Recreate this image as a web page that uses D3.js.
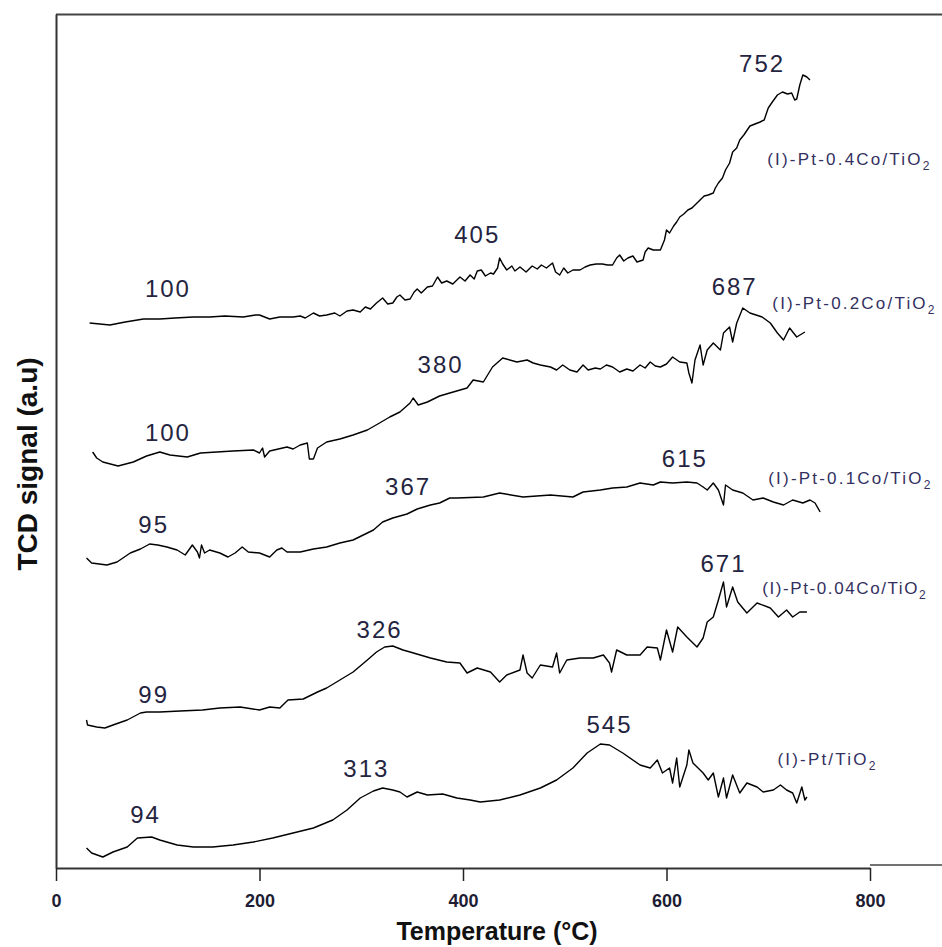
<!DOCTYPE html>
<html>
<head>
<meta charset="utf-8">
<script src="https://cdn.jsdelivr.net/npm/d3@7/dist/d3.min.js"></script>
<style>
body{margin:0;background:#fff;}
svg{display:block;}
</style>
</head>
<body>
<svg id="chart"></svg>
<script>
// TPR profiles, temperature (°C) vs TCD signal (a.u., offset per sample)
var pt04Co = [[33,5.45],[43,5.44],[53,5.43],[68,5.46],[86,5.49],[102,5.49],[117,5.50],[135,5.51],[151,5.51],[166,5.52],[184,5.51],[196,5.53],[200,5.53],[205,5.51],[210,5.49],[220,5.51],[233,5.51],[240,5.52],[245,5.50],[253,5.55],[259,5.52],[266,5.53],[274,5.55],[279,5.52],[286,5.57],[292,5.58],[299,5.56],[304,5.61],[309,5.59],[315,5.65],[321,5.70],[326,5.64],[331,5.65],[335,5.71],[338,5.73],[343,5.68],[348,5.69],[352,5.76],[355,5.79],[359,5.75],[365,5.81],[370,5.82],[375,5.91],[379,5.85],[384,5.87],[390,5.84],[397,5.91],[402,5.87],[407,5.93],[411,5.89],[414,5.97],[418,5.98],[422,5.92],[427,5.95],[430,5.94],[434,6.00],[436,6.10],[439,6.04],[443,5.98],[448,6.02],[451,5.97],[456,6.01],[462,5.96],[468,6.02],[473,5.99],[477,6.03],[482,6.00],[488,6.05],[491,5.96],[495,5.93],[499,6.00],[503,5.95],[508,5.98],[515,5.98],[520,6.01],[525,6.03],[531,6.04],[537,6.04],[542,6.03],[547,6.03],[551,6.10],[554,6.13],[558,6.07],[562,6.10],[567,6.12],[571,6.06],[577,6.08],[579,6.16],[582,6.20],[587,6.18],[594,6.18],[598,6.28],[600,6.38],[603,6.35],[607,6.42],[610,6.46],[613,6.51],[617,6.54],[621,6.58],[625,6.60],[630,6.65],[633,6.68],[637,6.72],[641,6.73],[646,6.75],[648,6.80],[651,6.85],[655,6.90],[658,6.98],[662,7.05],[665,7.16],[669,7.20],[672,7.28],[676,7.33],[682,7.42],[687,7.44],[692,7.46],[696,7.48],[700,7.60],[704,7.66],[709,7.73],[714,7.76],[719,7.74],[723,7.75],[726,7.68],[728,7.69],[731,7.83],[734,7.93],[738,7.91],[741,7.88]];

var pt02Co = [[36,4.16],[40,4.10],[46,4.06],[61,4.02],[76,4.06],[89,4.12],[102,4.16],[112,4.13],[129,4.11],[142,4.15],[158,4.16],[174,4.17],[194,4.18],[200,4.15],[203,4.20],[205,4.11],[210,4.17],[227,4.21],[233,4.19],[240,4.23],[247,4.25],[249,4.09],[253,4.09],[257,4.20],[266,4.26],[279,4.29],[292,4.33],[306,4.38],[318,4.45],[328,4.51],[338,4.56],[348,4.65],[351,4.70],[356,4.63],[365,4.66],[377,4.72],[387,4.75],[404,4.80],[410,4.88],[420,4.86],[429,5.01],[439,5.10],[453,5.06],[463,5.08],[469,5.05],[476,5.03],[486,5.01],[492,4.98],[498,5.03],[505,4.98],[512,4.96],[518,5.03],[523,4.98],[530,5.00],[535,4.99],[541,5.03],[547,5.01],[554,4.96],[561,4.99],[567,4.97],[574,5.03],[579,5.00],[584,5.06],[589,5.02],[594,5.01],[600,5.04],[606,5.11],[613,5.06],[620,5.05],[622,4.95],[625,4.85],[628,5.08],[633,5.23],[636,5.03],[640,5.18],[646,5.25],[653,5.18],[656,5.35],[662,5.41],[665,5.26],[669,5.45],[675,5.60],[682,5.55],[694,5.51],[702,5.45],[709,5.35],[715,5.28],[721,5.40],[728,5.31],[736,5.36]];

var pt01Co = [[30,3.10],[35,3.05],[50,3.03],[60,3.06],[73,3.15],[83,3.19],[92,3.24],[100,3.23],[109,3.21],[119,3.18],[127,3.13],[134,3.23],[139,3.16],[141,3.10],[143,3.23],[146,3.15],[151,3.18],[161,3.15],[169,3.11],[176,3.15],[183,3.21],[189,3.16],[200,3.15],[210,3.11],[217,3.18],[222,3.20],[227,3.16],[240,3.16],[253,3.19],[266,3.21],[279,3.25],[292,3.28],[302,3.33],[312,3.38],[321,3.46],[331,3.50],[345,3.54],[355,3.59],[368,3.63],[377,3.65],[387,3.70],[394,3.70],[420,3.71],[436,3.75],[459,3.71],[486,3.73],[508,3.71],[518,3.76],[535,3.78],[547,3.80],[561,3.81],[574,3.85],[587,3.83],[594,3.86],[606,3.85],[620,3.86],[630,3.85],[636,3.81],[640,3.78],[646,3.85],[651,3.78],[656,3.63],[658,3.83],[665,3.78],[675,3.75],[685,3.68],[695,3.70],[705,3.66],[715,3.63],[724,3.68],[734,3.65],[741,3.68],[746,3.65],[751,3.56]];

var pt004Co = [[30,1.48],[31,1.43],[40,1.41],[48,1.40],[56,1.43],[70,1.48],[83,1.55],[89,1.56],[102,1.56],[122,1.57],[144,1.58],[161,1.60],[181,1.61],[200,1.58],[210,1.61],[220,1.60],[228,1.68],[243,1.69],[257,1.76],[266,1.80],[279,1.88],[292,1.96],[306,2.08],[315,2.16],[323,2.21],[331,2.22],[341,2.18],[348,2.16],[358,2.13],[368,2.10],[384,2.06],[397,2.05],[404,1.95],[414,2.00],[427,1.96],[436,1.86],[443,1.93],[456,1.98],[459,2.13],[463,1.95],[468,1.90],[476,2.03],[488,2.01],[492,2.15],[495,1.95],[502,2.08],[515,2.10],[528,2.10],[538,2.13],[544,2.05],[546,1.96],[551,2.18],[561,2.13],[574,2.13],[581,2.21],[591,2.20],[594,2.08],[600,2.38],[606,2.16],[611,2.41],[620,2.31],[630,2.21],[636,2.30],[640,2.46],[646,2.51],[651,2.68],[656,2.86],[659,2.61],[665,2.81],[670,2.66],[679,2.55],[689,2.65],[702,2.60],[710,2.51],[718,2.58],[724,2.51],[731,2.56],[738,2.56]];

var ptOnly = [[30,0.20],[35,0.15],[46,0.11],[56,0.16],[70,0.21],[80,0.30],[94,0.31],[102,0.28],[119,0.23],[135,0.21],[154,0.21],[174,0.23],[194,0.26],[213,0.30],[233,0.35],[253,0.40],[272,0.48],[286,0.58],[299,0.70],[312,0.77],[321,0.80],[331,0.78],[338,0.76],[345,0.71],[355,0.76],[365,0.73],[380,0.74],[394,0.70],[407,0.68],[417,0.66],[436,0.68],[456,0.73],[476,0.80],[492,0.88],[508,1.00],[522,1.15],[535,1.24],[544,1.23],[557,1.15],[574,1.03],[584,1.00],[591,1.08],[596,0.95],[603,1.00],[606,0.85],[610,1.10],[613,0.81],[620,1.03],[622,1.18],[626,1.05],[636,0.95],[641,0.88],[646,0.95],[651,0.71],[656,0.90],[659,0.70],[665,0.93],[672,0.75],[679,0.85],[689,0.81],[695,0.76],[705,0.78],[712,0.83],[718,0.78],[724,0.75],[728,0.65],[733,0.81],[736,0.68],[738,0.71]];

var curves = [pt04Co, pt02Co, pt01Co, pt004Co, ptOnly];

// sample names, anchored at [temperature, signal] of text start
var sampleNames = ["(I)-Pt-0.4Co/TiO", "(I)-Pt-0.2Co/TiO", "(I)-Pt-0.1Co/TiO", "(I)-Pt-0.04Co/TiO", "(I)-Pt/TiO"];
var sampleAnchors = [[699,7.03],[704,5.59],[700,3.84],[694,2.74],[709,1.03]];

// peak temperature labels, anchored at [temperature, signal] of text centre/baseline
var peakTexts = ["752","405","100","687","380","100","615","367","95","671","326","99","545","313","94"];
var peakAnchors = [[694,7.96],[414,6.25],[110,5.71],[667,5.73],[378,4.95],[110,4.27],[618,4.01],[346,3.73],[96,3.35],[656,2.96],[318,2.30],[96,1.65],[544,1.35],[305,0.91],[88,0.45]];

var xTicks = [0,200,400,600,800];

var width = 942, height = 947;
var svg = d3.select("#chart")
		.attr("width",width)
		.attr("height",height)
		.style("font-family","'Liberation Sans', Arial, sans-serif");

var x = d3.scaleLinear().domain([0,800]).range([56,870]);
var y = d3.scaleLinear().domain([0,8.54]).range([868,14]);

// frame pieces
svg.append("line")
		.attr("x1",x(0)).attr("x2",width)
		.attr("y1",y(8.54)+0.5).attr("y2",y(8.54)+0.5)
		.attr("stroke","#444").attr("stroke-width",2);

svg.append("line")
		.attr("x1",x(800)).attr("x2",width)
		.attr("y1",y(0)-3).attr("y2",y(0)-3)
		.attr("stroke","#444").attr("stroke-width",1.5);

var gx = svg.append("g")
		.attr("transform","translate(0,"+y(0)+")")
		.call(d3.axisBottom(x).tickValues(xTicks).tickSize(13).tickSizeOuter(0).tickPadding(13).tickFormat(d3.format("d")));
gx.select(".domain").attr("stroke","#333").attr("stroke-width",2);
gx.selectAll(".tick line").attr("stroke","#222").attr("stroke-width",1.5);
gx.selectAll(".tick text")
		.attr("fill","#1d1d33")
		.style("font-size","18px")
		.style("font-weight","bold");

var gy = svg.append("g")
		.attr("transform","translate("+x(0)+",0)")
		.call(d3.axisLeft(y).tickValues([]).tickSizeOuter(0));
gy.select(".domain").attr("stroke","#333").attr("stroke-width",2);

// axis titles
svg.append("text")
		.text("Temperature (°C)")
		.attr("x",497)
		.attr("y",940)
		.attr("text-anchor","middle")
		.attr("fill","#111")
		.style("font-size","25px")
		.style("font-weight","bold");

svg.append("text")
		.text("TCD signal (a.u)")
		.attr("transform","translate(37,464) rotate(-90)")
		.attr("text-anchor","middle")
		.attr("fill","#111")
		.style("font-size","28px")
		.style("font-weight","bold");

// profiles
var line = d3.line()
		.x(function(d){ return x(d[0]); })
		.y(function(d){ return y(d[1]); });

svg.selectAll("path.tpr")
		.data(curves)
		.enter().append("path")
		.attr("class","tpr")
		.attr("d",line)
		.attr("fill","none")
		.attr("stroke","#000")
		.attr("stroke-width",1.4)
		.attr("stroke-linejoin","round");

// peak labels
svg.selectAll("text.peak")
		.data(peakTexts)
		.enter().append("text")
		.attr("class","peak")
		.text(function(d){ return d; })
		.attr("x",function(d,i){ return x(peakAnchors[i][0]); })
		.attr("y",function(d,i){ return y(peakAnchors[i][1]); })
		.attr("text-anchor","middle")
		.attr("fill","#24243f")
		.style("font-size","24px")
		.style("letter-spacing","2px");

// sample names with subscript 2
var names = svg.selectAll("text.name")
		.data(sampleNames)
		.enter().append("text")
		.attr("class","name")
		.attr("x",function(d,i){ return x(sampleAnchors[i][0]); })
		.attr("y",function(d,i){ return y(sampleAnchors[i][1]); })
		.attr("fill","#33305f")
		.style("font-size","17px")
		.style("letter-spacing",function(d){ return d.length > 16 ? "1.6px" : "2.2px"; });
names.append("tspan").text(function(d){ return d; });
names.append("tspan").text("2").attr("dy",5).style("font-size","12px");
</script>
</body>
</html>
